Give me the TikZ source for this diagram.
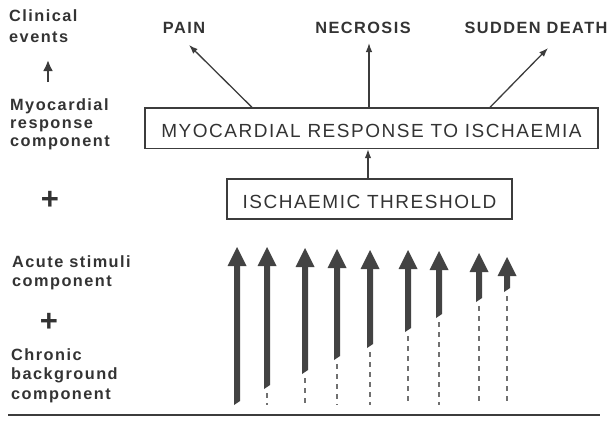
\documentclass[tikz,border=0pt]{standalone}
\usepackage{fontspec}
\setmainfont{Liberation Sans}
\newfontfamily\labfont[LetterSpace=9]{Liberation Sans}
\newfontfamily\boxfont[LetterSpace=8]{Liberation Sans}
\usetikzlibrary{arrows.meta}
\definecolor{txt}{HTML}{333333}
\definecolor{linec}{HTML}{3C3C3C}
\definecolor{arrc}{HTML}{434343}
\definecolor{dashc}{HTML}{707070}
\begin{document}
\begin{tikzpicture}[x=1pt,y=-1pt,
  lab/.style={font=\labfont\bfseries\fontsize{16.3}{18}\selectfont, text=txt, inner sep=0pt, anchor=base west},
  ev/.style={font=\labfont\bfseries\fontsize{16.3}{18}\selectfont, text=txt, inner sep=0pt, anchor=base},
  plus/.style={font=\bfseries\fontsize{31}{32}\selectfont, text=txt, inner sep=0pt},
  boxnode/.style={draw=linec, line width=1.3pt, font=\boxfont\fontsize{19}{21}\selectfont, text=txt, inner sep=0pt, text height=18pt, text depth=0pt},
  thinarr/.style={draw=linec, line width=1.3pt, -{Latex[length=9pt,width=6.5pt]}},
  smallarr/.style={draw=linec, line width=2.2pt, -{Latex[length=11pt,width=10pt]}},
  dashline/.style={draw=dashc, line width=1.4pt, dash pattern=on 5pt off 5pt}
]
\useasboundingbox (0,0) rectangle (613,423);

% left column labels
\node[lab] (clin1) at (9,21) {Clinical};
\node[lab] (clin2) at (9,42) {events};
\node[lab] (myo1) at (10,110) {Myocardial};
\node[lab] (myo2) at (10,128) {response};
\node[lab] (myo3) at (10,146) {component};
\node[plus] (plus1) at (50,200) {+};
\node[lab] (ac1) at (12,267) {Acute stimuli};
\node[lab] (ac2) at (12,286) {component};
\node[plus] (plus2) at (49,322) {+};
\node[lab] (ch1) at (11,360) {Chronic};
\node[lab] (ch2) at (11,379) {background};
\node[lab] (ch3) at (11,399) {component};
\coordinate (sa1) at (48,82);
\coordinate (sa2) at (48,60);
\draw[smallarr] (sa1) -- (sa2);

% clinical events
\node[ev] (pain) at (184,33) {PAIN};
\node[ev] (necr) at (363,33) {NECROSIS};
\node[ev] (sd) at (536,33) {SUDDEN\hspace{6pt}DEATH};

% boxes
\node[boxnode, minimum width=453pt, minimum height=40.5pt] (box1) at (371.5,128.25) {MYOCARDIAL RESPONSE TO ISCHAEMIA};
\node[boxnode, minimum width=285pt, minimum height=40pt] (box2) at (369.5,199) {ISCHAEMIC THRESHOLD};

\coordinate (tpain) at (189,45);
\coordinate (tnecr) at (369,43);
\coordinate (tsd) at (548,48);
\draw[thinarr] ([xshift=-119.5pt]box1.north) -- (tpain);
\draw[thinarr] (box1.north -| tnecr) -- (tnecr);
\draw[thinarr] ([xshift=118.5pt]box1.north) -- (tsd);
\draw[thinarr] (box2.north -| 368,0) -- (box1.south -| 368,0);

% acute stimuli arrows with chronic background dashes
\foreach \x/\t/\b/\d in {237/247/403/0, 267/247/387/405, 305/248/372/405, 337/249/358/405, 370/250/346/405, 408/250/330/405, 439/251/316/405, 479/253/300/405, 507/257/290/405}{
  \fill[arrc] (\x-9.5,\t+19) -- (\x,\t) -- (\x+9.5,\t+19) -- cycle;
  \fill[arrc] (\x-3,\t+18) -- (\x+3,\t+18) -- (\x+3,\b-2) -- (\x-3,\b+2) -- cycle;
  \ifnum\d>0
    \draw[dashline] (\x,\b+6) -- (\x,\d);
  \fi
}

% base line
\draw[draw=linec, line width=1.6pt] (8,415) -- (600,415);
\end{tikzpicture}
\end{document}
